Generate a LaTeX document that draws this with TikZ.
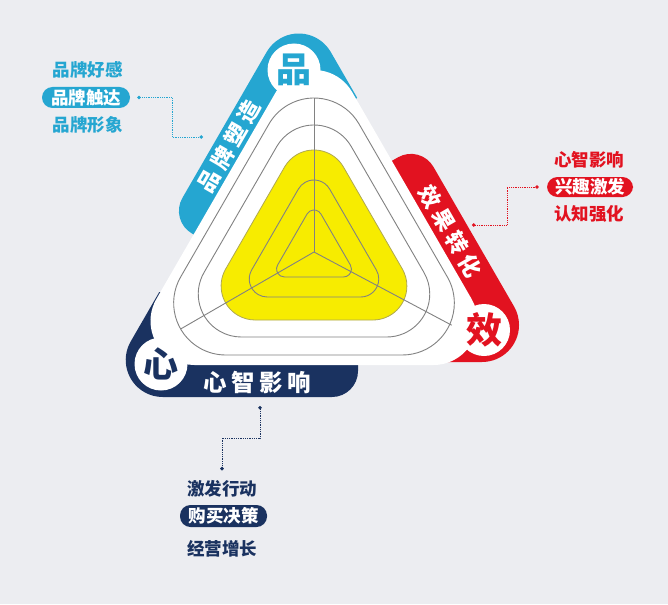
\documentclass[tikz,border=0pt]{standalone}
\usepackage{fontspec}
\setmainfont{Noto Sans CJK SC}
\usetikzlibrary{arrows.meta}
\definecolor{bg}{RGB}{236,237,241}
\definecolor{cy}{RGB}{37,166,209}
\definecolor{rd}{RGB}{226,18,32}
\definecolor{nv}{RGB}{26,50,96}
\definecolor{yl}{RGB}{247,236,0}
\definecolor{yo}{RGB}{175,168,80}
\definecolor{ringc}{RGB}{130,130,130}
% rounded equilateral triangle: #1 inradius, #2 corner radius
\newcommand\RoundTri[2]{%
 ({2*(#1-#2)*cos(330)}, {2*(#1-#2)*sin(330)-#2}) arc[start angle=-90,end angle=30,radius=#2]
 -- ({2*(#1-#2)*cos(90)+#2*cos(30)}, {2*(#1-#2)*sin(90)+#2*sin(30)}) arc[start angle=30,end angle=150,radius=#2]
 -- ({2*(#1-#2)*cos(210)+#2*cos(150)}, {2*(#1-#2)*sin(210)+#2*sin(150)}) arc[start angle=150,end angle=270,radius=#2]
 -- cycle}
% coloured band: #1 colour, #2 rotation, #3 outer distance, #4 side distance, #5 end
\newcommand\ColorBand[5]{%
 \begin{scope}[shift={(314,-252)},rotate=#2]
 \pgfmathsetmacro\bcy{-#3+37}
 \pgfmathsetmacro\bcx{(0.5*\bcy-#4+37)/0.866}
 \fill[#1] ({(-20-#4)/0.866},-40) -- ({\bcx-32.04},{\bcy+18.5})
   arc[start angle=150,end angle=270,radius=37]
   -- ({#5-26},-#3) arc[start angle=-90,end angle=0,radius=26]
   -- (#5,-60) -- (-140,-40) -- cycle;
 \end{scope}}
\begin{document}
\begin{tikzpicture}[x=1pt,y=1pt,
  ring/.style={draw=ringc,line width=0.9pt},
  corner/.style={circle,fill=white,inner sep=0pt,font=\bfseries\fontsize{35}{35}\selectfont},
  bandtxt/.style={text=white,inner sep=0pt,font=\bfseries\fontsize{22}{22}\selectfont},
  lst/.style={inner sep=1pt,font=\bfseries\fontsize{17.5}{18}\selectfont},
  pill/.style={rectangle,rounded corners=10.5pt,inner sep=0pt,text=white,minimum height=21pt,minimum width=87pt,font=\bfseries\fontsize{17.5}{18}\selectfont},
  conn/.style={densely dotted,line width=0.8pt,{Circle[length=3.5pt]}-{Circle[length=3.5pt]}}]
\fill[bg] (0,0) rectangle (668,-604);
\useasboundingbox (0,0) rectangle (668,-604);

% coloured bands
\ColorBand{cy}{240}{141}{114.5}{45}
\ColorBand{rd}{120}{146}{110}{40}
\ColorBand{nv}{0}{145}{114}{44}

% white triangle and rings
\begin{scope}[shift={(314,-252)}]
\fill[white] \RoundTri{113}{44};
\draw[ring] \RoundTri{103}{52};
\draw[ring] \RoundTri{85}{43};
\fill[yl] \RoundTri{68}{34};
\draw[draw=yo,line width=0.8pt] \RoundTri{68}{34};
\draw[ring] \RoundTri{45}{18};
\draw[ring] \RoundTri{25}{8};
\coordinate (O) at (0,0);
\coordinate (rt) at (90:154);
\coordinate (rl) at (210:154);
\coordinate (rr) at (332:156);
\draw[ring] (O) -- (rt);
\draw[ring] (O) -- (rl);
\draw[ring] (O) -- (rr);
\end{scope}

% corner letters
\node[corner,text=cy,minimum size=53pt] (kp) at (294,-70) {品};
\node[corner,text=rd,minimum size=52pt,font=\bfseries\fontsize{36}{36}\selectfont] (kx) at (484,-330) {效};
\node[corner,text=nv,minimum size=53pt] (kh) at (161,-364) {心};

% band texts
\node[bandtxt,rotate=60] (tc) at (229,-146.5) {品\hspace{4.5pt}牌\hspace{4.5pt}塑\hspace{4.5pt}造};
\node[bandtxt,rotate=-60] (tr) at (450.5,-231) {效\hspace{4.5pt}果\hspace{4.5pt}转\hspace{4.5pt}化};
\node[bandtxt,font=\bfseries\fontsize{23.5}{23.5}\selectfont] (tn) at (257.5,-382.5) {心\hspace{4.5pt}智\hspace{4.5pt}影\hspace{4.5pt}响};

% left list
\node[lst,text=cy] (b1) at (87.5,-70) {品牌好感};
\node[pill,fill=cy,minimum width=88pt] (b2) at (86,-97.5) {品牌触达};
\node[lst,text=cy] (b3) at (87.5,-124.5) {品牌形象};
\coordinate (cyd) at (203,-137);
\draw[conn,cy] ([xshift=7pt]b2.east) -- ++(35,0) |- (cyd);

% right list
\node[lst,text=rd] (r1) at (589,-160) {心智影响};
\node[pill,fill=rd,minimum width=86pt,minimum height=20pt] (r2) at (590,-187) {兴趣激发};
\node[lst,text=rd] (r3) at (589,-214) {认知强化};
\coordinate (rdd) at (472,-225);
\draw[conn,rd] (rdd) -- ++(35,0) |- ([xshift=-8pt]r2.west);

% bottom list
\node[lst,text=nv] (n1) at (222,-489) {激发行动};
\node[pill,fill=nv,minimum width=87pt,minimum height=22pt] (n2) at (223.5,-516) {购买决策};
\node[lst,text=nv] (n3) at (222,-549) {经营增长};
\coordinate (nvd) at (260,-406);
\draw[conn,nv] (nvd) -- ++(0,-32) -| ([yshift=9pt]n1.north);
\end{tikzpicture}
\end{document}
